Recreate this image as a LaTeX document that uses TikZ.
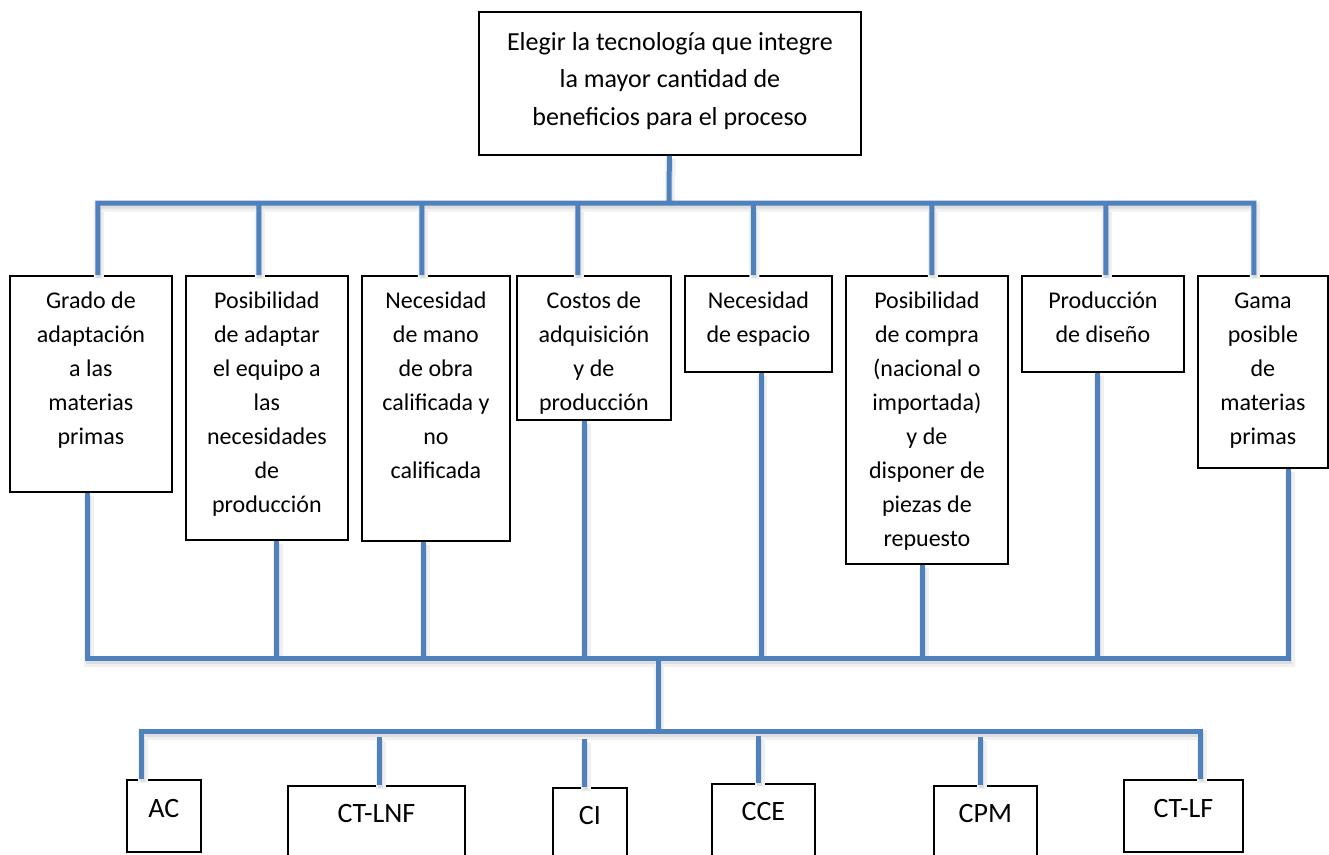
\documentclass[tikz,border=0pt]{standalone}
\usepackage{fontspec}
\setmainfont{Carlito}
\usetikzlibrary{positioning}
\definecolor{linkblue}{RGB}{79,129,189}
\tikzset{
  box/.style={draw,rectangle,line width=1.8pt,anchor=north west,inner sep=0pt},
  goaltext/.style={align=center,inner sep=0pt,font=\fontsize{26}{37.5}\selectfont},
  crittext/.style={align=center,inner sep=0pt,font=\fontsize{24}{34}\selectfont},
  techtext/.style={inner sep=0pt,font=\fontsize{28}{34}\selectfont},
  link/.style={draw=linkblue,line width=5pt,
    preaction={draw=black!6,line width=10pt,transform canvas={shift={(1pt,-3.5pt)}}},
    preaction={draw=black!13,line width=5pt,transform canvas={shift={(1pt,-3pt)}}}},
}

\begin{document}
\begin{tikzpicture}[x=1pt,y=-1pt]
  \useasboundingbox (0,0) rectangle (1329,854);
  \clip (0,0) rectangle (1329,854);
  \fill[white] (0,0) rectangle (1329,854);

  % goal
  \node[box,minimum width=382pt,minimum height=143pt] (goal) at (478,11) {};
  \node[goaltext,below=12.75pt of goal.north] (goaltxt) {\strut Elegir la tecnología que integre\\la mayor cantidad de\\beneficios para el proceso};

  % criteria
  \node[box,minimum width=162pt,minimum height=216pt] (grado) at (9,275) {};
  \node[crittext,below=9.2pt of grado.north] (gradotxt) {\strut Grado de\\adaptación\\a las\\materias\\primas};
  \node[box,minimum width=162pt,minimum height=264pt] (adaptar) at (185,275) {};
  \node[crittext,below=9.2pt of adaptar.north] (adaptartxt) {\strut Posibilidad\\de adaptar\\el equipo a\\las\\necesidades\\de\\producción};
  \node[box,minimum width=148pt,minimum height=265pt] (mano) at (361,275) {};
  \node[crittext,below=9.2pt of mano.north] (manotxt) {\strut Necesidad\\de mano\\de obra\\calificada y\\no\\calificada};
  \node[box,minimum width=154pt,minimum height=144pt] (costos) at (516,275) {};
  \node[crittext,below=9.2pt of costos.north] (costostxt) {\strut Costos de\\adquisición\\y de\\producción};
  \node[box,minimum width=147pt,minimum height=96pt] (espacio) at (684,275) {};
  \node[crittext,below=9.2pt of espacio.north] (espaciotxt) {\strut Necesidad\\de espacio};
  \node[box,minimum width=162pt,minimum height=288pt] (compra) at (845,275) {};
  \node[crittext,below=9.2pt of compra.north] (compratxt) {\strut Posibilidad\\de compra\\(nacional o\\importada)\\y de\\disponer de\\piezas de\\repuesto};
  \node[box,minimum width=162pt,minimum height=96pt] (diseno) at (1021,275) {};
  \node[crittext,below=9.2pt of diseno.north] (disenotxt) {\strut Producción\\de diseño};
  \node[box,minimum width=130pt,minimum height=192pt] (gama) at (1197,275) {};
  \node[crittext,below=9.2pt of gama.north] (gamatxt) {\strut Gama\\posible\\de\\materias\\primas};

  % technologies
  \node[box,minimum width=74pt,minimum height=72pt] (ac) at (126,779) {};
  \node[techtext,below=14pt of ac.north] (actxt) {\strut AC};
  \node[box,minimum width=177pt,minimum height=95pt] (ctlnf) at (287,785) {};
  \node[techtext,below=13.5pt of ctlnf.north] (ctlnftxt) {\strut CT-LNF};
  \node[box,minimum width=74pt,minimum height=95pt] (ci) at (552,787) {};
  \node[techtext,below=13.5pt of ci.north] (citxt) {\strut CI};
  \node[box,minimum width=103pt,minimum height=95pt] (cce) at (711,783) {};
  \node[techtext,below=13.5pt of cce.north] (ccetxt) {\strut CCE};
  \node[box,minimum width=103pt,minimum height=95pt] (cpm) at (933,785) {};
  \node[techtext,below=13.5pt of cpm.north] (cpmtxt) {\strut CPM};
  \node[box,minimum width=119pt,minimum height=72pt] (ctlf) at (1123,779) {};
  \node[techtext,below=14pt of ctlf.north] (ctlftxt) {\strut CT-LF};

  % connectors
  \coordinate (top) at (669,203);
  \coordinate (mid) at (658,658);
  \coordinate (low) at (658,731);
  \draw[link] (goal) -- (top)
    ([xshift=7pt]grado.north) |- (top) -| ([xshift=-9pt]gama.north)
    ([xshift=-8pt]adaptar.north) |- (top)
    ([xshift=-14pt]mano.north) |- (top)
    ([xshift=-16pt]costos.north) |- (top)
    ([xshift=-5pt]espacio.north) |- (top)
    ([xshift=5pt]compra.north) |- (top)
    ([xshift=3pt]diseno.north) |- (top);
  \draw[link] ([xshift=-3pt]grado.south) |- (mid) -| ([xshift=26pt]gama.south)
    ([xshift=10pt]adaptar.south) |- (mid)
    ([xshift=-12pt]mano.south) |- (mid)
    ([xshift=-9pt]costos.south) |- (mid)
    ([xshift=3pt]espacio.south) |- (mid)
    ([xshift=-4pt]compra.south) |- (mid)
    ([xshift=-5pt]diseno.south) |- (mid)
    (mid) -- (low);
  \draw[link] ([xshift=-22pt]ac.north) |- (low) -| ([xshift=17.5pt]ctlf.north)
    ([xshift=3.5pt]ctlnf.north) -- ([xshift=3.5pt,yshift=48pt]ctlnf.north)
    ([xshift=-5pt]ci.north) -- ([xshift=-5pt,yshift=48pt]ci.north)
    ([xshift=-4.5pt]cce.north) -- ([xshift=-4.5pt,yshift=47pt]cce.north)
    ([xshift=-4.5pt]cpm.north) -- ([xshift=-4.5pt,yshift=48pt]cpm.north);
\end{tikzpicture}
\end{document}
